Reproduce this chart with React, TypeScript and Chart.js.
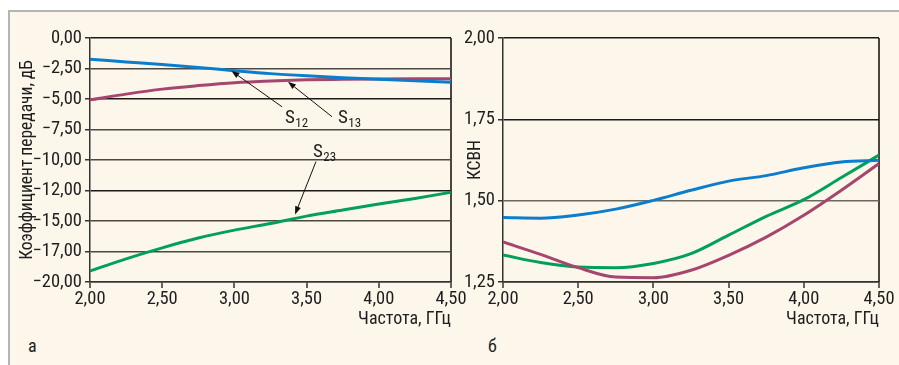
import React, { useEffect, useRef } from "react";
import { Chart, registerables } from "chart.js";

Chart.register(...registerables);

// ---------- data ----------
const FREQ = [2.0, 2.25, 2.5, 2.75, 3.0, 3.25, 3.5, 3.75, 4.0, 4.25, 4.5];

// panel a: transmission coefficient, dB
const S12 = [-1.74, -1.96, -2.18, -2.42, -2.68, -2.92, -3.1, -3.25, -3.38, -3.5, -3.62];
const S13 = [-5.07, -4.6, -4.19, -3.9, -3.66, -3.52, -3.43, -3.39, -3.36, -3.35, -3.35];
const S23 = [-19.1, -18.1, -17.2, -16.4, -15.75, -15.2, -14.6, -14.1, -13.6, -13.15, -12.65];

// panel б: VSWR
const VSWR_BLUE = [1.448, 1.446, 1.456, 1.474, 1.501, 1.532, 1.56, 1.577, 1.601, 1.619, 1.624];
const VSWR_MAGENTA = [1.373, 1.335, 1.294, 1.265, 1.263, 1.286, 1.332, 1.388, 1.455, 1.532, 1.614];
const VSWR_GREEN = [1.333, 1.31, 1.296, 1.294, 1.307, 1.337, 1.394, 1.452, 1.503, 1.571, 1.64];

// tick labels (ascending order)
const X_TICK_LABELS = ["2,00", "2,50", "3,00", "3,50", "4,00", "4,50"];
const Y_TICK_LABELS_A = ["−20,00", "−17,00", "−15,00", "−12,00", "−10,00", "−7,50", "−5,00", "−2,50", "0,00"];
const Y_TICK_LABELS_B = ["1,25", "1,50", "1,75", "2,00"];

// annotations for panel a (data units)
const ANNOT_NAMES = ["S", "S", "S"];
const ANNOT_SUBS = ["12", "13", "23"];
const ANNOT_LABEL_X = [3.35, 3.717, 3.544];
const ANNOT_LABEL_Y = [-6.94, -6.94, -9.72];
const ANNOT_TAIL_X = [3.33, 3.676, 3.565];
const ANNOT_TAIL_Y = [-5.64, -6.45, -10.13];
const ANNOT_TIP_X = [2.98, 3.371, 3.42];
const ANNOT_TIP_Y = [-2.7, -3.59, -14.46];

// ---------- styles ----------
const BLUE = "#0a7dcc";
const MAGENTA = "#a5466f";
const GREEN = "#00a05c";
const BG = "#fdf6ea";
const FONT_FAMILY = "'Liberation Sans Narrow', 'Roboto Condensed', 'DejaVu Sans Condensed', 'Liberation Sans', sans-serif";
const TEXT = "#1e1e1e";

function pts(ys: number[]) {
  return FREQ.map((x, i) => ({ x, y: ys[i] }));
}

function ds(label: string, ys: number[], color: string) {
  return {
    label,
    data: pts(ys),
    borderColor: color,
    backgroundColor: color,
    borderWidth: 3,
    pointRadius: 0,
    cubicInterpolationMode: "monotone" as const,
    fill: false,
  };
}

function labelFrom(arr: string[], min: number, step: number) {
  return (v: number | string) => {
    const i = Math.round((Number(v) - min) / step);
    return arr[i] ?? "";
  };
}

const annotPlugin = {
  id: "sAnnot",
  afterDatasetsDraw(chart: any) {
    const { ctx, scales } = chart;
    const xs = scales.x;
    const ys = scales.y;
    ctx.save();
    for (let i = 0; i < ANNOT_NAMES.length; i++) {
      const tx = xs.getPixelForValue(ANNOT_TAIL_X[i]);
      const ty = ys.getPixelForValue(ANNOT_TAIL_Y[i]);
      const px = xs.getPixelForValue(ANNOT_TIP_X[i]);
      const py = ys.getPixelForValue(ANNOT_TIP_Y[i]);
      const ang = Math.atan2(py - ty, px - tx);
      const hl = 8;
      const hw = 3;
      const bx = px - hl * Math.cos(ang);
      const by = py - hl * Math.sin(ang);
      ctx.strokeStyle = "#111";
      ctx.fillStyle = "#111";
      ctx.lineWidth = 1;
      ctx.beginPath();
      ctx.moveTo(tx, ty);
      ctx.lineTo(bx, by);
      ctx.stroke();
      ctx.beginPath();
      ctx.moveTo(px, py);
      ctx.lineTo(bx + hw * Math.sin(ang), by - hw * Math.cos(ang));
      ctx.lineTo(bx - hw * Math.sin(ang), by + hw * Math.cos(ang));
      ctx.closePath();
      ctx.fill();

      const lx = xs.getPixelForValue(ANNOT_LABEL_X[i]);
      const ly = ys.getPixelForValue(ANNOT_LABEL_Y[i]);
      ctx.fillStyle = TEXT;
      ctx.textAlign = "left";
      ctx.textBaseline = "alphabetic";
      ctx.font = `normal normal 19px ${FONT_FAMILY}`;
      ctx.fillText(ANNOT_NAMES[i], lx, ly);
      const w = ctx.measureText(ANNOT_NAMES[i]).width;
      ctx.font = `normal normal 13px ${FONT_FAMILY}`;
      ctx.fillText(ANNOT_SUBS[i], lx + w + 0.5, ly + 4);
    }
    ctx.restore();
  },
};

function baseOptions(p: {
  yMin: number; yMax: number; yStep: number; yLabels: string[]; yTitle: string;
  yWidth: number; yTitlePad: number; padRight: number; gridColor: (v: number) => string;
}) {
  const tickFont = { family: FONT_FAMILY, size: 18.5 };
  return {
    animation: false,
    responsive: false,
    maintainAspectRatio: false,
    events: [],
    layout: { padding: { left: 0, right: p.padRight, top: 26, bottom: 0 }, autoPadding: false },
    plugins: { legend: { display: false }, tooltip: { enabled: false }, title: { display: false } },
    scales: {
      x: {
        type: "linear",
        min: 2,
        max: 4.5,
        ticks: {
          stepSize: 0.5,
          autoSkip: false,
          maxRotation: 0,
          padding: 0,
          color: TEXT,
          font: tickFont,
          callback: labelFrom(X_TICK_LABELS, 2, 0.5),
        },
        grid: {
          drawOnChartArea: true,
          color: (c: any) => (c.tick && Math.abs(c.tick.value - 4.5) < 1e-9 ? "#4a4540" : "rgba(0,0,0,0)"),
          lineWidth: 2,
          tickColor: "#333",
          tickLength: 6,
          tickWidth: 1.5,
        },
        border: { display: true, color: "#333", width: 1.5 },
        title: {
          display: true,
          text: "Частота, ГГц",
          align: "end",
          color: TEXT,
          font: { family: FONT_FAMILY, size: 18 },
          padding: { top: 0, bottom: 0 },
        },
        afterFit: (s: any) => {
          s.height = 48;
        },
      },
      y: {
        type: "linear",
        min: p.yMin,
        max: p.yMax,
        ticks: {
          stepSize: p.yStep,
          autoSkip: false,
          padding: 3,
          color: TEXT,
          font: tickFont,
          callback: labelFrom(p.yLabels, p.yMin, p.yStep),
        },
        grid: {
          color: (c: any) => (c.tick ? p.gridColor(c.tick.value) : "#333"),
          lineWidth: 1.5,
          tickColor: "#333",
          tickLength: 5,
          tickWidth: 1.5,
        },
        border: { display: true, color: "#333", width: 1.5 },
        title: {
          display: true,
          text: p.yTitle,
          color: TEXT,
          font: { family: FONT_FAMILY, size: 17.5 },
          padding: { top: p.yTitlePad, bottom: 0 },
        },
        afterFit: (s: any) => {
          s.width = p.yWidth;
        },
      },
    },
  };
}

function ChartA() {
  const ref = useRef<HTMLCanvasElement>(null);
  useEffect(() => {
    if (!ref.current) return;
    const chart = new Chart(ref.current, {
      type: "line",
      data: { datasets: [ds("S12", S12, BLUE), ds("S13", S13, MAGENTA), ds("S23", S23, GREEN)] },
      options: baseOptions({
        yMin: -20, yMax: 0, yStep: 2.5, yLabels: Y_TICK_LABELS_A,
        yTitle: "Коэффициент передачи, дБ", yWidth: 80, yTitlePad: 7, padRight: 29,
        gridColor: (v) => (Math.abs(v) < 1e-9 || Math.abs(v + 5) < 1e-9 || Math.abs(v + 12.5) < 1e-9 ? "#1a1a1a" : "#4d4843"),
      }) as any,
      plugins: [annotPlugin],
    });
    return () => chart.destroy();
  }, []);
  return (
    <canvas ref={ref} width={470} height={318}
      style={{ position: "absolute", left: 10, top: 12, width: 470, height: 318 }} />
  );
}

function ChartB() {
  const ref = useRef<HTMLCanvasElement>(null);
  useEffect(() => {
    if (!ref.current) return;
    const chart = new Chart(ref.current, {
      type: "line",
      data: {
        datasets: [
          ds("blue", VSWR_BLUE, BLUE),
          ds("magenta", VSWR_MAGENTA, MAGENTA),
          ds("green", VSWR_GREEN, GREEN),
        ],
      },
      options: baseOptions({
        yMin: 1.25, yMax: 2, yStep: 0.25, yLabels: Y_TICK_LABELS_B,
        yTitle: "КСВН", yWidth: 43, yTitlePad: 5, padRight: 20,
        gridColor: (v) => (Math.abs(v - 1.5) < 1e-9 ? "#6e6862" : "#1a1a1a"),
      }) as any,
    });
    return () => chart.destroy();
  }, []);
  return (
    <canvas ref={ref} width={439} height={318}
      style={{ position: "absolute", left: 460, top: 12, width: 439, height: 318 }} />
  );
}

export default function App() {
  return (
    <div style={{ position: "absolute", left: 0, top: 0, width: 899, height: 365, background: "#ffffff", overflow: "hidden" }}>
      <div
        style={{
          position: "absolute", left: 8, top: 10, width: 900, height: 370,
          background: BG, borderLeft: "2px solid #b4b4b4", borderTop: "2px solid #b4b4b4",
        }}
      />
      <ChartA />
      <ChartB />
      <div style={{ position: "absolute", left: 28, top: 335, fontFamily: FONT_FAMILY, fontSize: 18, color: TEXT }}>а</div>
      <div style={{ position: "absolute", left: 488, top: 335, fontFamily: FONT_FAMILY, fontSize: 18, color: TEXT }}>б</div>
    </div>
  );
}
